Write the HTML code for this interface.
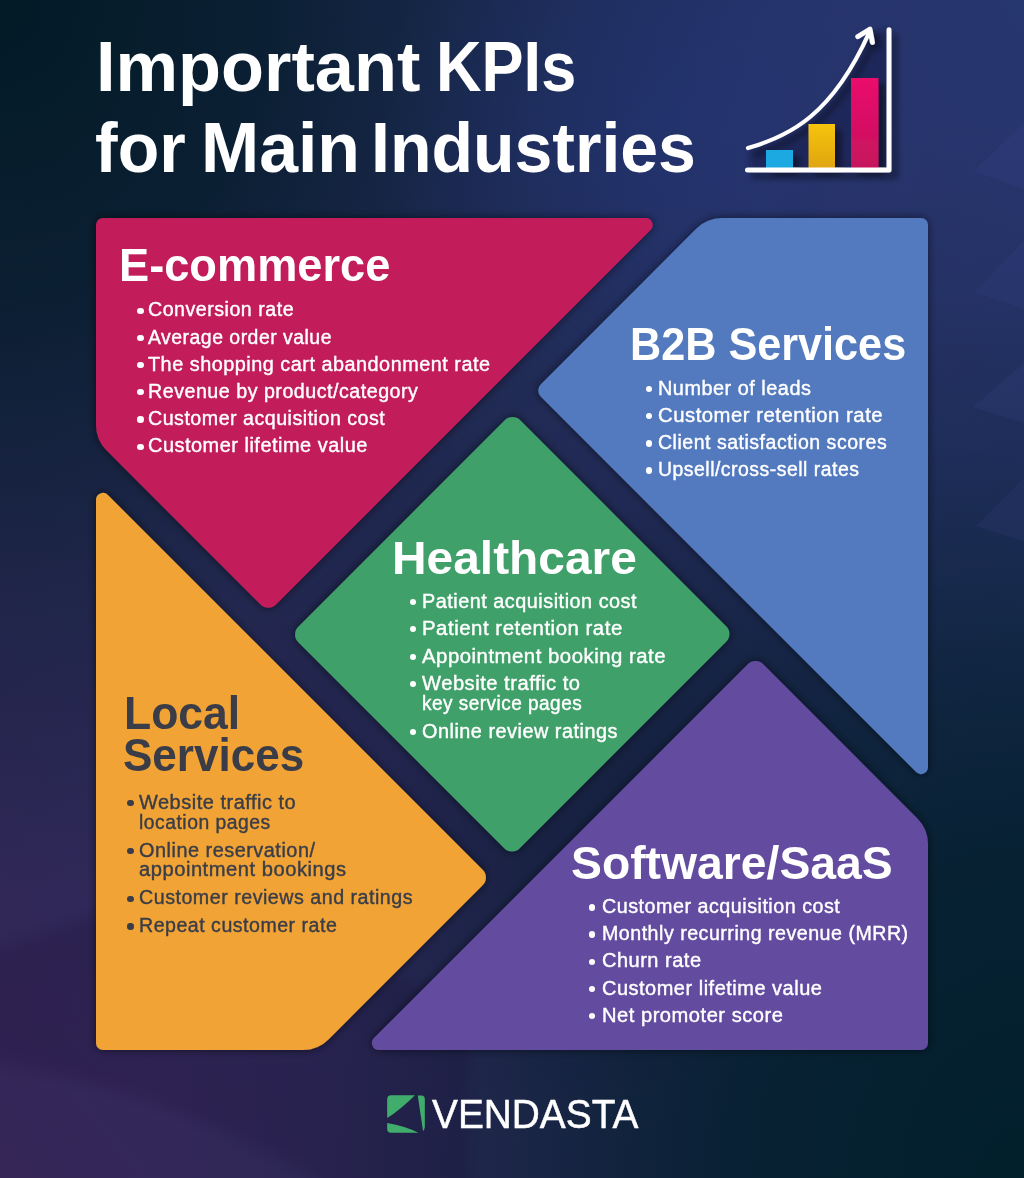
<!DOCTYPE html>
<html><head><meta charset="utf-8"><title>Important KPIs for Main Industries</title>
<style>
html,body{margin:0;padding:0;}
body{width:1024px;height:1178px;overflow:hidden;position:relative;font-family:"Liberation Sans", sans-serif;background:#1c2448;}
.bg{position:absolute;left:0;top:0;width:1024px;height:1178px;}
.t{position:absolute;white-space:nowrap;line-height:1;transform-origin:0 0;}
.dot{position:absolute;border-radius:50%;}
svg{position:absolute;left:0;top:0;}
</style></head><body>
<div class="bg" style="background:linear-gradient(to bottom left, #26366f 0%, #2d2f64 50%, #352657 100%);"></div>
<div class="bg" style="background:radial-gradient(ellipse 100% 100% at 0% 0%, rgba(2,27,38,1) 0%, rgba(2,27,38,0.8) 25%, rgba(2,27,38,0.38) 50%, rgba(2,27,38,0.07) 75%, rgba(2,27,38,0) 90%), radial-gradient(ellipse 95% 100% at 100% 100%, rgba(2,31,44,1) 0%, rgba(2,31,44,0.9) 25%, rgba(2,31,44,0.7) 40%, rgba(2,31,44,0.5) 50%, rgba(2,31,44,0.28) 62%, rgba(2,31,44,0.1) 75%, rgba(2,31,44,0) 90%);"></div>
<div class="bg" style="background:radial-gradient(circle 280px at 650px 130px, rgba(35,58,135,0.35) 0%, rgba(35,58,135,0.25) 35%, rgba(35,58,135,0.12) 65%, rgba(35,58,135,0) 100%), radial-gradient(circle 350px at 560px 760px, rgba(5,10,30,0.25) 0%, rgba(5,10,30,0.22) 25%, rgba(5,10,30,0.11) 70%, rgba(5,10,30,0) 100%);"></div>
<svg width="1024" height="1178" viewBox="0 0 1024 1178">
<defs>
<filter id="bl8" x="-20%" y="-20%" width="140%" height="140%"><feGaussianBlur stdDeviation="6"/></filter>
<filter id="bl3" x="-20%" y="-20%" width="140%" height="140%"><feGaussianBlur stdDeviation="3"/></filter>
<filter id="sh" x="-10%" y="-10%" width="120%" height="120%"><feGaussianBlur in="SourceAlpha" stdDeviation="5"/><feOffset dx="0" dy="0"/><feComponentTransfer><feFuncA type="linear" slope="0.55"/></feComponentTransfer><feMerge><feMergeNode/><feMergeNode in="SourceGraphic"/></feMerge></filter>
<linearGradient id="gy" x1="0" y1="0" x2="0" y2="1"><stop offset="0" stop-color="#f6c40f"/><stop offset="1" stop-color="#e0a512"/></linearGradient>
<linearGradient id="gp" x1="0" y1="0" x2="0" y2="1"><stop offset="0" stop-color="#ea0a6c"/><stop offset="1" stop-color="#c5155c"/></linearGradient>
<filter id="csh" x="-20%" y="-20%" width="160%" height="160%"><feGaussianBlur in="SourceAlpha" stdDeviation="3"/><feOffset dx="6" dy="6"/><feComponentTransfer><feFuncA type="linear" slope="0.45"/></feComponentTransfer><feMerge><feMergeNode/><feMergeNode in="SourceGraphic"/></feMerge></filter>
</defs>
<path d="M-20,955 L140,900 L470,1000 L470,1190 L335,1190 A958,958 0 0 0 -20,1060 Z" fill="#0a0520" opacity="0.13" filter="url(#bl8)"/>
<g fill="#6a6ad0" opacity="0.065">
<path d="M974,171 L1024,123 L1024,189 Z"/>
<path d="M975,292 L1024,241 L1024,309 Z"/>
<path d="M973,407 L1024,363 L1024,423 Z"/>
<path d="M976,526 L1024,478 L1024,542 Z"/>
</g>
<path d="M750,150 C792,138 834,116 869,35 L889,28 L889,170 L750,170 Z" fill="#0a1030" opacity="0.32" filter="url(#bl3)"/>
<g filter="url(#sh)">
<path d="M96.00,225.00 A7.00,7.00 0 0 1 103.00,218.00 L645.60,218.00 A7.00,7.00 0 0 1 650.55,229.95 L276.03,604.47 A11.00,11.00 0 0 1 260.47,604.47 L106.54,450.54 A36.00,36.00 0 0 1 96.00,425.09 Z" fill="#c21e5a"/>
<path d="M696.46,228.54 A36.00,36.00 0 0 1 721.91,218.00 L921.00,218.00 A7.00,7.00 0 0 1 928.00,225.00 L928.00,767.10 A7.00,7.00 0 0 1 916.05,772.05 L540.86,396.86 A9.00,9.00 0 0 1 540.86,384.14 Z" fill="#527abe"/>
<path d="M504.72,420.28 A11.00,11.00 0 0 1 520.28,420.28 L726.22,626.22 A11.00,11.00 0 0 1 726.22,641.78 L519.78,848.22 A11.00,11.00 0 0 1 504.22,848.22 L298.28,642.28 A11.00,11.00 0 0 1 298.28,626.72 Z" fill="#41a06a"/>
<path d="M96.00,499.90 A7.00,7.00 0 0 1 107.95,494.95 L482.72,869.72 A11.00,11.00 0 0 1 482.72,885.28 L328.54,1039.46 A36.00,36.00 0 0 1 303.09,1050.00 L103.00,1050.00 A7.00,7.00 0 0 1 96.00,1043.00 Z" fill="#f1a436"/>
<path d="M747.72,664.28 A11.00,11.00 0 0 1 763.28,664.28 L917.46,818.46 A36.00,36.00 0 0 1 928.00,843.91 L928.00,1043.00 A7.00,7.00 0 0 1 921.00,1050.00 L378.90,1050.00 A7.00,7.00 0 0 1 373.95,1038.05 Z" fill="#634c9f"/>
</g>
<g filter="url(#csh)">
<rect x="766" y="150" width="27" height="18" fill="#1ea9e1"/>
<rect x="808.5" y="124" width="26.5" height="44" fill="url(#gy)"/>
<rect x="851" y="78" width="27.5" height="90" fill="url(#gp)"/>
<path d="M747.5,170 L889,170 L889,29.8" fill="none" stroke="#ffffff" stroke-width="5" stroke-linecap="round" stroke-linejoin="round"/>
<path d="M748,148 C790,136 832,115 869,33" fill="none" stroke="#ffffff" stroke-width="4.2" stroke-linecap="round"/>
<path d="M857.8,36.6 L870,29.2 L872.4,42.4" fill="none" stroke="#ffffff" stroke-width="5" stroke-linecap="round" stroke-linejoin="round"/>
</g>
<g fill="#41ad6c">
<path d="M387.2,1099 Q387.2,1095.2 391,1095.2 L415,1095.2 Q400,1110 387.2,1118 Z"/>
<path d="M387.2,1123 Q405,1126 418.5,1132.8 L391,1132.8 Q387.2,1132.8 387.2,1129 Z"/>
<path d="M417.8,1095.4 L421.5,1095.4 Q424.8,1095.4 424.8,1099 L424.8,1127 Q424.5,1130 423,1131 Z"/>
</g>
</svg>
<div class="t" style="left:95.6px;top:32.42px;font-size:70.5px;font-weight:700;color:#ffffff;transform:scaleX(0.9978);">Important</div>
<div class="t" style="left:436.2px;top:32.42px;font-size:70.5px;font-weight:700;color:#ffffff;transform:scaleX(0.8946);">KPIs</div>
<div class="t" style="left:95.4px;top:113.32px;font-size:70.5px;font-weight:700;color:#ffffff;transform:scaleX(0.9652);">for</div>
<div class="t" style="left:200.8px;top:113.32px;font-size:70.5px;font-weight:700;color:#ffffff;transform:scaleX(0.9901);">Main</div>
<div class="t" style="left:370.9px;top:113.32px;font-size:70.5px;font-weight:700;color:#ffffff;transform:scaleX(0.9644);">Industries</div>
<div class="t" style="left:118.9px;top:241.84px;font-size:46.5px;font-weight:700;color:#ffffff;transform:scaleX(0.972);">E-commerce</div>
<div class="dot" style="left:137.4px;top:307.5px;width:6.4px;height:6.4px;background:#ffffff"></div>
<div class="t" style="left:148.4px;top:300.49px;font-size:19.5px;font-weight:400;color:#ffffff;-webkit-text-stroke:0.4px #ffffff;letter-spacing:0.5px;transform:scaleX(1.0063);">Conversion rate</div>
<div class="dot" style="left:137.4px;top:334.7px;width:6.4px;height:6.4px;background:#ffffff"></div>
<div class="t" style="left:148.4px;top:327.69px;font-size:19.5px;font-weight:400;color:#ffffff;-webkit-text-stroke:0.4px #ffffff;letter-spacing:0.5px;transform:scaleX(0.9957);">Average order value</div>
<div class="dot" style="left:137.4px;top:361.9px;width:6.4px;height:6.4px;background:#ffffff"></div>
<div class="t" style="left:148.4px;top:354.89px;font-size:19.5px;font-weight:400;color:#ffffff;-webkit-text-stroke:0.4px #ffffff;letter-spacing:0.5px;transform:scaleX(1.017);">The shopping cart abandonment rate</div>
<div class="dot" style="left:137.4px;top:389.1px;width:6.4px;height:6.4px;background:#ffffff"></div>
<div class="t" style="left:148.4px;top:382.09px;font-size:19.5px;font-weight:400;color:#ffffff;-webkit-text-stroke:0.4px #ffffff;letter-spacing:0.5px;transform:scaleX(1.0082);">Revenue by product/category</div>
<div class="dot" style="left:137.4px;top:416.3px;width:6.4px;height:6.4px;background:#ffffff"></div>
<div class="t" style="left:148.4px;top:409.29px;font-size:19.5px;font-weight:400;color:#ffffff;-webkit-text-stroke:0.4px #ffffff;letter-spacing:0.5px;transform:scaleX(1.0064);">Customer acquisition cost</div>
<div class="dot" style="left:137.4px;top:443.5px;width:6.4px;height:6.4px;background:#ffffff"></div>
<div class="t" style="left:148.4px;top:436.49px;font-size:19.5px;font-weight:400;color:#ffffff;-webkit-text-stroke:0.4px #ffffff;letter-spacing:0.5px;transform:scaleX(1.0215);">Customer lifetime value</div>
<div class="t" style="left:630.2px;top:321.04px;font-size:46.5px;font-weight:700;color:#ffffff;transform:scaleX(0.929);">B2B Services</div>
<div class="dot" style="left:646.1px;top:386.1px;width:6.4px;height:6.4px;background:#ffffff"></div>
<div class="t" style="left:657.6px;top:379.09px;font-size:19.5px;font-weight:400;color:#ffffff;-webkit-text-stroke:0.4px #ffffff;letter-spacing:0.5px;transform:scaleX(1.0187);">Number of leads</div>
<div class="dot" style="left:646.1px;top:413.0px;width:6.4px;height:6.4px;background:#ffffff"></div>
<div class="t" style="left:657.6px;top:405.99px;font-size:19.5px;font-weight:400;color:#ffffff;-webkit-text-stroke:0.4px #ffffff;letter-spacing:0.5px;transform:scaleX(1.0405);">Customer retention rate</div>
<div class="dot" style="left:646.1px;top:440.3px;width:6.4px;height:6.4px;background:#ffffff"></div>
<div class="t" style="left:657.6px;top:433.29px;font-size:19.5px;font-weight:400;color:#ffffff;-webkit-text-stroke:0.4px #ffffff;letter-spacing:0.5px;transform:scaleX(1.0022);">Client satisfaction scores</div>
<div class="dot" style="left:646.1px;top:467.3px;width:6.4px;height:6.4px;background:#ffffff"></div>
<div class="t" style="left:657.6px;top:460.29px;font-size:19.5px;font-weight:400;color:#ffffff;-webkit-text-stroke:0.4px #ffffff;letter-spacing:0.5px;transform:scaleX(0.996);">Upsell/cross-sell rates</div>
<div class="t" style="left:391.9px;top:534.94px;font-size:46.5px;font-weight:700;color:#ffffff;transform:scaleX(1.0296);">Healthcare</div>
<div class="dot" style="left:409.8px;top:598.8px;width:6.4px;height:6.4px;background:#ffffff"></div>
<div class="t" style="left:421.5px;top:591.79px;font-size:19.5px;font-weight:400;color:#ffffff;-webkit-text-stroke:0.4px #ffffff;letter-spacing:0.5px;transform:scaleX(1.0171);">Patient acquisition cost</div>
<div class="dot" style="left:409.8px;top:626.1px;width:6.4px;height:6.4px;background:#ffffff"></div>
<div class="t" style="left:421.5px;top:619.09px;font-size:19.5px;font-weight:400;color:#ffffff;-webkit-text-stroke:0.4px #ffffff;letter-spacing:0.5px;transform:scaleX(1.0455);">Patient retention rate</div>
<div class="dot" style="left:409.8px;top:653.7px;width:6.4px;height:6.4px;background:#ffffff"></div>
<div class="t" style="left:421.5px;top:646.69px;font-size:19.5px;font-weight:400;color:#ffffff;-webkit-text-stroke:0.4px #ffffff;letter-spacing:0.5px;transform:scaleX(1.0421);">Appointment booking rate</div>
<div class="dot" style="left:409.8px;top:681.1px;width:6.4px;height:6.4px;background:#ffffff"></div>
<div class="t" style="left:421.5px;top:674.09px;font-size:19.5px;font-weight:400;color:#ffffff;-webkit-text-stroke:0.4px #ffffff;letter-spacing:0.5px;transform:scaleX(1.0327);">Website traffic to</div>
<div class="t" style="left:421.5px;top:694.09px;font-size:19.5px;font-weight:400;color:#ffffff;-webkit-text-stroke:0.4px #ffffff;letter-spacing:0.5px;transform:scaleX(0.9732);">key service pages</div>
<div class="dot" style="left:409.8px;top:728.9px;width:6.4px;height:6.4px;background:#ffffff"></div>
<div class="t" style="left:421.5px;top:721.89px;font-size:19.5px;font-weight:400;color:#ffffff;-webkit-text-stroke:0.4px #ffffff;letter-spacing:0.5px;transform:scaleX(1.0172);">Online review ratings</div>
<div class="t" style="left:124.2px;top:691.18px;font-size:45.5px;font-weight:700;color:#3a3d48;transform:scaleX(0.9779);">Local</div>
<div class="t" style="left:122.9px;top:733.08px;font-size:45.5px;font-weight:700;color:#3a3d48;transform:scaleX(0.9679);">Services</div>
<div class="dot" style="left:127.3px;top:800.0px;width:6.4px;height:6.4px;background:#3a3d48"></div>
<div class="t" style="left:139.2px;top:792.99px;font-size:19.5px;font-weight:400;color:#3a3d48;-webkit-text-stroke:0.4px #3a3d48;letter-spacing:0.5px;transform:scaleX(1.0242);">Website traffic to</div>
<div class="t" style="left:139.2px;top:812.69px;font-size:19.5px;font-weight:400;color:#3a3d48;-webkit-text-stroke:0.4px #3a3d48;letter-spacing:0.5px;transform:scaleX(0.9924);">location pages</div>
<div class="dot" style="left:127.3px;top:847.6px;width:6.4px;height:6.4px;background:#3a3d48"></div>
<div class="t" style="left:139.2px;top:840.59px;font-size:19.5px;font-weight:400;color:#3a3d48;-webkit-text-stroke:0.4px #3a3d48;letter-spacing:0.5px;transform:scaleX(1.0191);">Online reservation/</div>
<div class="t" style="left:139.2px;top:860.29px;font-size:19.5px;font-weight:400;color:#3a3d48;-webkit-text-stroke:0.4px #3a3d48;letter-spacing:0.5px;transform:scaleX(1.0335);">appointment bookings</div>
<div class="dot" style="left:127.3px;top:895.5px;width:6.4px;height:6.4px;background:#3a3d48"></div>
<div class="t" style="left:139.2px;top:888.49px;font-size:19.5px;font-weight:400;color:#3a3d48;-webkit-text-stroke:0.4px #3a3d48;letter-spacing:0.5px;transform:scaleX(1.0077);">Customer reviews and ratings</div>
<div class="dot" style="left:127.3px;top:923.4px;width:6.4px;height:6.4px;background:#3a3d48"></div>
<div class="t" style="left:139.2px;top:916.39px;font-size:19.5px;font-weight:400;color:#3a3d48;-webkit-text-stroke:0.4px #3a3d48;letter-spacing:0.5px;transform:scaleX(1.0041);">Repeat customer rate</div>
<div class="t" style="left:571.4px;top:841.38px;font-size:45.5px;font-weight:700;color:#ffffff;transform:scaleX(1.0176);">Software/SaaS</div>
<div class="dot" style="left:589.0px;top:904.3px;width:6.4px;height:6.4px;background:#ffffff"></div>
<div class="t" style="left:601.5px;top:897.29px;font-size:19.5px;font-weight:400;color:#ffffff;-webkit-text-stroke:0.4px #ffffff;letter-spacing:0.5px;transform:scaleX(1.011);">Customer acquisition cost</div>
<div class="dot" style="left:589.0px;top:931.4px;width:6.4px;height:6.4px;background:#ffffff"></div>
<div class="t" style="left:601.5px;top:924.39px;font-size:19.5px;font-weight:400;color:#ffffff;-webkit-text-stroke:0.4px #ffffff;letter-spacing:0.5px;transform:scaleX(1.0059);">Monthly recurring revenue (MRR)</div>
<div class="dot" style="left:589.0px;top:958.5px;width:6.4px;height:6.4px;background:#ffffff"></div>
<div class="t" style="left:601.5px;top:951.49px;font-size:19.5px;font-weight:400;color:#ffffff;-webkit-text-stroke:0.4px #ffffff;letter-spacing:0.5px;transform:scaleX(1.025);">Churn rate</div>
<div class="dot" style="left:589.0px;top:985.7px;width:6.4px;height:6.4px;background:#ffffff"></div>
<div class="t" style="left:601.5px;top:978.69px;font-size:19.5px;font-weight:400;color:#ffffff;-webkit-text-stroke:0.4px #ffffff;letter-spacing:0.5px;transform:scaleX(1.0238);">Customer lifetime value</div>
<div class="dot" style="left:589.0px;top:1013.1px;width:6.4px;height:6.4px;background:#ffffff"></div>
<div class="t" style="left:601.5px;top:1006.09px;font-size:19.5px;font-weight:400;color:#ffffff;-webkit-text-stroke:0.4px #ffffff;letter-spacing:0.5px;transform:scaleX(1.0314);">Net promoter score</div>
<div class="t" style="left:432.2px;top:1093.75px;font-size:41.4px;font-weight:400;color:#ffffff;-webkit-text-stroke:0.5px #ffffff;transform:scaleX(0.938);">VENDASTA</div>
</body></html>
